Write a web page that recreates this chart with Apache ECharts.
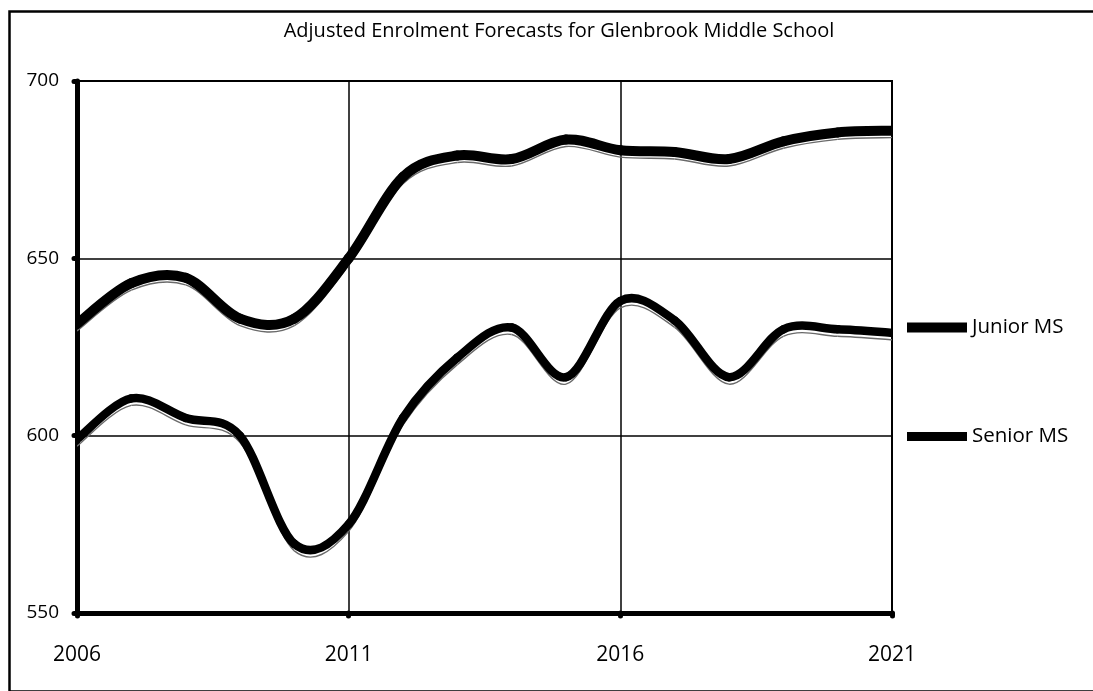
<!DOCTYPE html>
<html>
<head>
<meta charset="utf-8">
<script src="https://cdn.jsdelivr.net/npm/echarts@6/dist/echarts.min.js"></script>
<style>
  html, body { margin: 0; padding: 0; background: #fff; }
  #chart { width: 1093px; height: 691px; }
</style>
</head>
<body>
<div id="chart"></div>
<script>
// Forecast years along the horizontal axis
const years = ['2006','2007','2008','2009','2010','2011','2012','2013',
               '2014','2015','2016','2017','2018','2019','2020','2021'];

// Adjusted enrolment forecasts
const juniorMS = [631.5, 643, 644.5, 633, 633, 650, 673, 679,
                  678, 683.5, 680.5, 680, 678, 683, 685.5, 686];
const seniorMS = [599, 610.5, 605, 600, 569.5, 575, 605, 622,
                  630.5, 616.5, 638, 632.5, 616.5, 630, 630, 629];

const yTicks = { min: 550, max: 700, step: 50 };

const chart = echarts.init(document.getElementById('chart'), null, { renderer: 'canvas' });

// Smoothed line drawn as Catmull-Rom bezier segments between neighbouring
// data points, each with a thin offset shadow stroke underneath.
function smoothLine(width) {
  return function (params, api) {
    const i = params.dataIndexInside;
    const n = params.dataInsideLength;
    if (i >= n - 1) return null;
    const pt = (k) => {
      const j = Math.max(0, Math.min(n - 1, k));
      return api.coord([api.value(0, j), api.value(1, j)]);
    };
    const p0 = pt(i - 1), p1 = pt(i), p2 = pt(i + 1), p3 = pt(i + 2);
    const shape = {
      x1: p1[0], y1: p1[1],
      x2: p2[0], y2: p2[1],
      cpx1: p1[0] + (p2[0] - p0[0]) / 6,
      cpy1: p1[1] + (p2[1] - p0[1]) / 6,
      cpx2: p2[0] - (p3[0] - p1[0]) / 6,
      cpy2: p2[1] - (p3[1] - p1[1]) / 6
    };
    const off = Object.assign({}, shape, {
      y1: shape.y1 + 7, y2: shape.y2 + 7, cpy1: shape.cpy1 + 7, cpy2: shape.cpy2 + 7
    });
    return {
      type: 'group',
      children: [{
        type: 'bezierCurve',
        shape: off,
        z2: 1,
        style: { fill: null, stroke: '#6a6a6a', lineWidth: 1.4 }
      }, {
        type: 'bezierCurve',
        shape: shape,
        z2: 10,
        style: { fill: null, stroke: '#000', lineWidth: width, lineCap: 'round', lineJoin: 'round' }
      }]
    };
  };
}

chart.setOption({
  backgroundColor: '#fff',
  animation: false,
  title: {
    text: 'Adjusted Enrolment Forecasts for Glenbrook Middle School',
    left: 559,
    top: 21,
    padding: 0,
    textAlign: 'center',
    textStyle: {
      fontFamily: 'Open Sans',
      fontSize: 20,
      fontWeight: 'normal',
      color: '#000'
    }
  },
  graphic: [{
    type: 'rect',
    left: 7,
    top: 9,
    shape: { width: 1100, height: 680 },
    style: { fill: 'none', stroke: '#000', lineWidth: 2.5 },
    silent: true,
    z: 0
  }],
  legend: [{
    data: [{ name: 'Junior MS', icon: 'rect' }],
    orient: 'vertical',
    left: 907,
    top: 317,
    itemWidth: 60,
    itemHeight: 10,
    itemGap: 5,
    padding: 0,
    textStyle: { fontFamily: 'Open Sans', fontSize: 20.5, color: '#000' }
  }, {
    data: [{ name: 'Senior MS', icon: 'rect' }],
    orient: 'vertical',
    left: 907,
    top: 426,
    itemWidth: 60,
    itemHeight: 9,
    itemGap: 5,
    padding: 0,
    textStyle: { fontFamily: 'Open Sans', fontSize: 20.5, color: '#000' }
  }],
  grid: {
    left: 77,
    right: 201,
    top: 81,
    bottom: 78,
    show: true,
    borderColor: '#000',
    borderWidth: 2,
    backgroundColor: '#fff',
    containLabel: false
  },
  xAxis: {
    type: 'category',
    data: years,
    boundaryGap: false,
    axisLine: { show: true, lineStyle: { color: '#000', width: 5 } },
    axisTick: {
      show: true, interval: 4, length: 3, inside: false,
      lineStyle: { color: '#000', width: 5, cap: 'round' }
    },
    axisLabel: {
      interval: 4,
      margin: 32,
      fontFamily: 'Open Sans',
      fontSize: 21,
      color: '#000'
    },
    splitLine: { show: true, interval: 4, lineStyle: { color: '#000', width: 1.5 } }
  },
  yAxis: {
    type: 'value',
    min: yTicks.min,
    max: yTicks.max,
    interval: yTicks.step,
    axisLine: { show: true, lineStyle: { color: '#000', width: 5 } },
    axisTick: {
      show: true, length: 3, inside: false,
      lineStyle: { color: '#000', width: 5, cap: 'round' }
    },
    axisLabel: {
      margin: 18,
      fontFamily: 'Open Sans',
      fontSize: 19,
      color: '#000'
    },
    splitLine: { show: true, lineStyle: { color: '#000', width: 1.5 } }
  },
  series: [{
    name: 'Junior MS',
    type: 'custom',
    data: juniorMS.map((v, i) => [i, v]),
    encode: { x: 0, y: 1 },
    renderItem: smoothLine(10),
    itemStyle: { color: '#000' },
    clip: true,
    z: 5
  }, {
    name: 'Senior MS',
    type: 'custom',
    data: seniorMS.map((v, i) => [i, v]),
    encode: { x: 0, y: 1 },
    renderItem: smoothLine(8.5),
    itemStyle: { color: '#000' },
    clip: true,
    z: 5
  }]
});
</script>
</body>
</html>
